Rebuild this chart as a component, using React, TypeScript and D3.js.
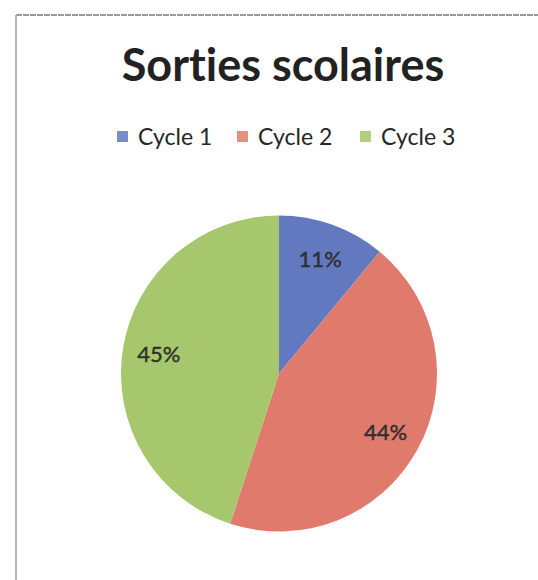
import React from 'react';
import * as d3 from 'd3';

const categories = ['Cycle 1', 'Cycle 2', 'Cycle 3'];
const values = [11, 44, 45];
const colors = ['#6279c0', '#e07a6c', '#a6c76b'];

const W = 538;
const H = 580;

const App: React.FC = () => {
  const cx = 279;
  const cy = 373.5;
  const r = 158;

  const pie = d3.pie<number>().sort(null).value(d => d)(values);
  const arc = d3.arc<d3.PieArcDatum<number>>().innerRadius(0).outerRadius(r);
  const labelArc = d3.arc<d3.PieArcDatum<number>>().innerRadius(r * 0.77).outerRadius(r * 0.77);
  const total = d3.sum(values);

  // legend layout: swatch x
  const legendX = [117, 237, 360];

  return (
    <svg width={W} height={H} style={{ position: 'absolute', left: 0, top: 0, background: '#fff', fontVariantLigatures: 'none' }}>
      <rect x={0} y={0} width={W} height={H} fill="#fff" />
      {/* frame */}
      <line x1={16} x2={W} y1={15} y2={15} stroke="#7a7a7a" strokeWidth={1.5} strokeDasharray="6 1" />
      <line x1={16} x2={16} y1={15} y2={H} stroke="#b5b5b5" strokeWidth={2} />

      <text
        x={283}
        y={81}
        textAnchor="middle"
        fontFamily="Lato, sans-serif"
        fontWeight="bold"
        fontSize={45}
        fill="#222"
        style={{ fontVariantLigatures: 'none' }}
      >
        Sorties scolaires
      </text>

      <g fontFamily="Lato, sans-serif" fontSize={23} fill="#262626">
        {categories.map((c, i) => (
          <g key={c}>
            <rect x={legendX[i]} y={131} width={11} height={11} fill={colors[i]} opacity={0.85} />
            <text x={legendX[i] + 21} y={145}>{c}</text>
          </g>
        ))}
      </g>

      <g transform={`translate(${cx},${cy})`}>
        {pie.map((p, i) => (
          <path key={i} d={arc(p) || ''} fill={colors[i]} />
        ))}
        {pie.map((p, i) => {
          const [lx, ly] = labelArc.centroid(p);
          return (
            <text
              key={'l' + i}
              x={lx}
              y={ly}
              dy="0.35em"
              textAnchor="middle"
              fontFamily="Lato, sans-serif"
              fontSize={22}
              fill="#2e2e2e"
              stroke="#2e2e2e"
              strokeWidth={0.4}
            >
              {Math.round((p.value / total) * 100)}%
            </text>
          );
        })}
      </g>
    </svg>
  );
};

export default App;
